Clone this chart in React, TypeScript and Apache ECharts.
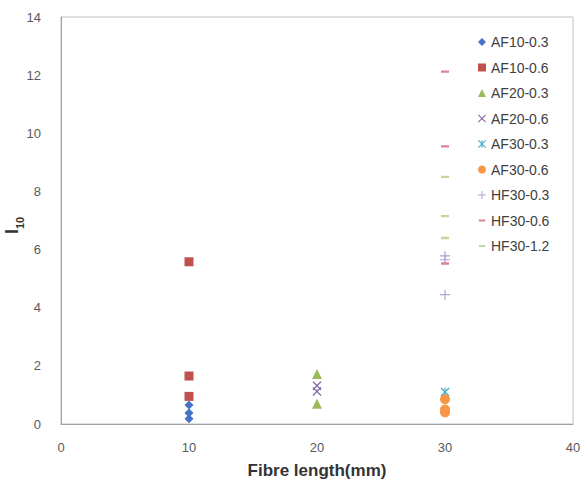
import React, { useEffect, useRef } from "react";
import * as echarts from "echarts";

const seriesNames = ["AF10-0.3", "AF10-0.6", "AF20-0.3", "AF20-0.6", "AF30-0.3", "AF30-0.6", "HF30-0.3", "HF30-0.6", "HF30-1.2"];
const seriesX = [10, 10, 20, 20, 30, 30, 30, 30, 30];
const af10_03 = [0.65, 0.38, 0.18];
const af10_06 = [5.58, 1.65, 0.95];
const af20_03 = [1.72, 0.7];
const af20_06 = [1.32, 1.12];
const af30_03 = [1.1];
const af30_06 = [0.85, 0.5, 0.4];
const hf30_03 = [5.78, 5.65, 4.45];
const hf30_06 = [12.12, 9.55, 5.52];
const hf30_12 = [8.5, 7.15, 6.4];
const allValues = [af10_03, af10_06, af20_03, af20_06, af30_03, af30_06, hf30_03, hf30_06, hf30_12];
const xTicks = [0, 10, 20, 30, 40];
const yTicks = [0, 2, 4, 6, 8, 10, 12, 14];

const colors = ["#4472C4", "#C0504D", "#9BBB59", "#8064A2", "#4BACC6", "#F79646", "#A9A6D6", "#D98695", "#C3D69B"];
const specks = " M0 0 L0.01 0 L0 0.01 Z M10 10 L9.99 10 L10 9.99 Z";
const xShape = "M0 1 L1 0 L5 4 L9 0 L10 1 L6 5 L10 9 L9 10 L5 6 L1 10 L0 9 L4 5 Z";
const starShape = "path://" + xShape + " M4.4 0 L5.6 0 L5.6 10 L4.4 10 Z";
const plusShape = "path://M4.4 0 H5.6 V4.4 H10 V5.6 H5.6 V10 H4.4 V5.6 H0 V4.4 H4.4 Z";
const dashShape = "path://M1 3.8 H9 V6.2 H1 Z" + specks;
const symbols = ["diamond", "rect", "triangle", "path://" + xShape, starShape, "circle", plusShape, dashShape, dashShape];
const sizes = [9, 9, 10, 9, 9, 10, 10, 10, 10];

export default function App() {
  const ref = useRef<HTMLDivElement>(null);
  useEffect(() => {
    if (!ref.current) return;
    const chart = echarts.init(ref.current, null, { renderer: "svg" });
    const font = "'Liberation Sans', Arial, sans-serif";
    chart.setOption({
      animation: false,
      textStyle: { fontFamily: font },
      grid: { left: 61, right: 11, top: 17, bottom: 59, show: true, borderColor: "#c0c0c0", borderWidth: 1 },
      legend: {
        orient: "vertical",
        left: 473,
        top: 30,
        itemWidth: 8,
        itemHeight: 8,
        itemGap: 11.5,
        textStyle: { fontSize: 14, color: "#404040", fontFamily: font },
        data: seriesNames,
      },
      xAxis: {
        type: "value",
        min: xTicks[0],
        max: xTicks[xTicks.length - 1],
        interval: 10,
        splitLine: { show: false },
        axisTick: { show: false },
        axisLine: { lineStyle: { color: "#a0a0a0" } },
        axisLabel: { color: "#595959", fontSize: 13, margin: 17 },
        name: "Fibre length(mm)",
        nameLocation: "middle",
        nameGap: 38,
        nameTextStyle: { fontSize: 17, fontWeight: "bold", color: "#333" },
      },
      yAxis: {
        type: "value",
        min: yTicks[0],
        max: yTicks[yTicks.length - 1],
        interval: 2,
        splitLine: { show: false },
        axisTick: { show: false },
        axisLine: { show: true, lineStyle: { color: "#a0a0a0" } },
        axisLabel: { color: "#595959", fontSize: 13, margin: 20 },
      },
      graphic: [
        {
          type: "group",
          x: 21,
          y: 234,
          rotation: Math.PI / 2,
          children: [
            { type: "text", x: 0, y: 0, style: { text: "I", font: "bold 18px " + font, fill: "#333", textVerticalAlign: "bottom" } },
            { type: "text", x: 5, y: 4, style: { text: "10", font: "bold 11px " + font, fill: "#333", textVerticalAlign: "bottom" } },
          ],
        },
      ],
      series: seriesNames.map((name, i) => ({
        name,
        type: "scatter",
        symbol: symbols[i],
        symbolSize: sizes[i],
        itemStyle: { color: colors[i], opacity: 1 },
        data: allValues[i].map((v) => [seriesX[i], v]),
      })),
    });
    return () => chart.dispose();
  }, []);
  return <div ref={ref} style={{ position: "absolute", left: 0, top: 0, width: 584, height: 484 }} />;
}
